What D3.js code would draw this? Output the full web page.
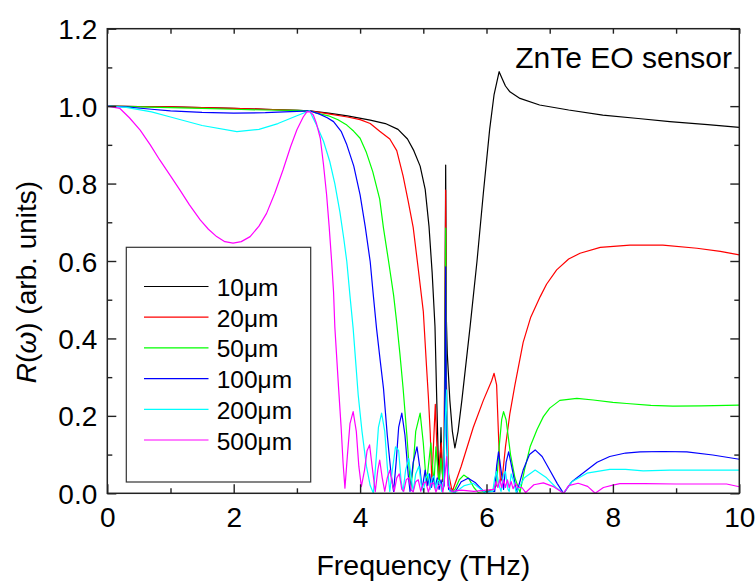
<!DOCTYPE html>
<html>
<head>
<meta charset="utf-8">
<script src="https://cdn.jsdelivr.net/npm/d3@7"></script>
<style>
  body { margin: 0; background: #fff; }
  svg { display: block; }
  text { font-family: "Liberation Sans", Arial, Helvetica, sans-serif; fill: #000; }
</style>
</head>
<body>
<div id="chart"></div>
<script>
// thickness labels, in legend order
var seriesNames = ["10\u03bcm", "20\u03bcm", "50\u03bcm", "100\u03bcm", "200\u03bcm", "500\u03bcm"];
var seriesColors = ["#000000", "#ff0000", "#00ff00", "#0000ff", "#00ffff", "#ff00ff"];

var xTicks = [0, 2, 4, 6, 8, 10];
var xMinorTicks = [1, 3, 5, 7, 9];
var yTicks = [0, 0.2, 0.4, 0.6, 0.8, 1.0, 1.2];
var yMinorTicks = [0.1, 0.3, 0.5, 0.7, 0.9, 1.1];

// [frequency (THz), R(w)]
var r10um = [[0,1.000],[0.5,0.999],[1,0.998],[1.5,0.996],[2,0.994],[2.5,0.992],[3,0.989],[3.2,0.988],[3.5,0.982],[3.8,0.975],[4.16,0.964],[4.4,0.955],[4.6,0.940],[4.75,0.915],[4.85,0.885],[4.95,0.845],[5.03,0.785],[5.09,0.69],[5.14,0.57],[5.185,0.43],[5.21,0.26],[5.235,0.10],[5.255,0.03],[5.27,0.10],[5.28,0.17],[5.29,0.10],[5.31,0.03],[5.33,0.05],[5.345,0.5],[5.354,0.848],[5.365,0.45],[5.38,0.36],[5.42,0.24],[5.46,0.16],[5.50,0.117],[5.55,0.16],[5.61,0.24],[5.74,0.43],[5.85,0.60],[5.95,0.775],[6.05,0.94],[6.12,1.03],[6.20,1.089],[6.25,1.07],[6.30,1.052],[6.37,1.037],[6.53,1.020],[6.84,1.003],[7.3,0.990],[7.84,0.977],[8.4,0.968],[8.9,0.960],[9.5,0.952],[10,0.945]];

var r20um = [[0,1.0],[0.5,0.999],[1,0.998],[1.5,0.996],[2,0.994],[2.5,0.992],[3,0.989],[3.2,0.988],[3.5,0.980],[3.8,0.972],[4.0,0.965],[4.16,0.955],[4.31,0.935],[4.47,0.915],[4.58,0.885],[4.68,0.82],[4.76,0.755],[4.84,0.687],[4.92,0.58],[5.0,0.47],[5.05,0.33],[5.08,0.25],[5.11,0.155],[5.135,0.03],[5.16,0.12],[5.19,0.23],[5.215,0.12],[5.24,0.03],[5.265,0.10],[5.285,0.13],[5.305,0.04],[5.325,0.03],[5.345,0.5],[5.354,0.783],[5.365,0.3],[5.40,0.05],[5.45,0.01],[5.47,0.01],[5.6,0.07],[5.79,0.17],[5.95,0.24],[6.08,0.29],[6.12,0.31],[6.16,0.28],[6.19,0.15],[6.22,0.03],[6.25,0.04],[6.30,0.12],[6.37,0.206],[6.45,0.28],[6.58,0.39],[6.7,0.455],[6.85,0.508],[6.95,0.54],[7.11,0.577],[7.3,0.605],[7.48,0.62],[7.8,0.635],[8.27,0.641],[8.79,0.641],[9.33,0.633],[9.7,0.625],[10,0.616]];

var r50um = [[0,1.0],[0.5,0.998],[1,0.996],[1.5,0.994],[2,0.992],[2.5,0.990],[3,0.989],[3.2,0.988],[3.31,0.982],[3.5,0.975],[3.65,0.965],[3.79,0.951],[3.9,0.935],[4.0,0.917],[4.1,0.88],[4.2,0.831],[4.31,0.76],[4.37,0.685],[4.45,0.60],[4.53,0.512],[4.58,0.44],[4.63,0.36],[4.68,0.272],[4.74,0.15],[4.80,0.01],[4.84,0.07],[4.88,0.16],[4.95,0.207],[5.0,0.13],[5.05,0.02],[5.08,0.07],[5.12,0.13],[5.15,0.06],[5.17,0.03],[5.20,0.12],[5.23,0.06],[5.25,0.03],[5.28,0.09],[5.31,0.04],[5.33,0.03],[5.345,0.4],[5.354,0.685],[5.365,0.2],[5.40,0.02],[5.45,0.005],[5.50,0.01],[5.57,0.035],[5.64,0.047],[5.72,0.038],[5.80,0.015],[5.87,0.002],[6.0,0.005],[6.1,0.01],[6.16,0.02],[6.2,0.12],[6.24,0.19],[6.27,0.211],[6.31,0.19],[6.38,0.10],[6.45,0.04],[6.53,0.002],[6.6,0.06],[6.69,0.12],[6.8,0.165],[6.9,0.198],[7.0,0.22],[7.16,0.24],[7.43,0.245],[7.69,0.241],[8.0,0.235],[8.22,0.232],[8.6,0.227],[8.95,0.225],[9.4,0.226],[10,0.228]];

var r100um = [[0,1.0],[0.3,0.998],[0.7,0.992],[1.0,0.988],[1.5,0.984],[2.0,0.982],[2.5,0.983],[2.9,0.986],[3.2,0.988],[3.35,0.98],[3.48,0.97],[3.58,0.96],[3.7,0.935],[3.79,0.90],[3.9,0.845],[4.0,0.771],[4.08,0.69],[4.16,0.598],[4.21,0.51],[4.26,0.426],[4.32,0.34],[4.37,0.271],[4.43,0.15],[4.49,0.05],[4.53,0.005],[4.57,0.08],[4.61,0.17],[4.66,0.207],[4.71,0.15],[4.76,0.05],[4.79,0.005],[4.84,0.08],[4.90,0.12],[4.95,0.06],[4.98,0.01],[5.03,0.06],[5.07,0.02],[5.10,0.05],[5.13,0.015],[5.16,0.045],[5.19,0.015],[5.22,0.04],[5.25,0.01],[5.28,0.035],[5.31,0.01],[5.33,0.02],[5.345,0.35],[5.354,0.585],[5.365,0.15],[5.40,0.01],[5.50,0.002],[5.6,0.03],[5.71,0.039],[5.82,0.028],[5.97,0.002],[6.05,0.005],[6.13,0.005],[6.16,0.07],[6.19,0.107],[6.23,0.06],[6.27,0.01],[6.31,0.08],[6.35,0.107],[6.41,0.06],[6.48,0.002],[6.58,0.06],[6.68,0.10],[6.77,0.112],[6.88,0.095],[7.0,0.06],[7.12,0.025],[7.22,0.0],[7.35,0.03],[7.59,0.06],[7.75,0.08],[7.95,0.095],[8.2,0.104],[8.43,0.107],[8.8,0.108],[9.17,0.107],[9.58,0.099],[10,0.088]];

var r200um = [[0,1.0],[0.3,0.997],[0.7,0.985],[1.0,0.972],[1.5,0.950],[2.05,0.934],[2.4,0.940],[2.7,0.955],[3.0,0.975],[3.2,0.988],[3.31,0.951],[3.42,0.91],[3.52,0.857],[3.60,0.80],[3.68,0.727],[3.74,0.66],[3.79,0.598],[3.84,0.51],[3.89,0.426],[3.93,0.34],[3.97,0.254],[4.03,0.16],[4.10,0.07],[4.16,0.02],[4.21,0.0],[4.25,0.08],[4.29,0.17],[4.34,0.207],[4.39,0.16],[4.43,0.07],[4.47,0.005],[4.51,0.06],[4.56,0.12],[4.61,0.11],[4.65,0.03],[4.68,0.005],[4.72,0.06],[4.77,0.09],[4.81,0.04],[4.84,0.005],[4.88,0.05],[4.93,0.07],[4.97,0.02],[5.0,0.005],[5.04,0.04],[5.08,0.05],[5.11,0.01],[5.14,0.04],[5.17,0.045],[5.20,0.01],[5.23,0.035],[5.26,0.03],[5.29,0.005],[5.32,0.03],[5.345,0.18],[5.37,0.267],[5.385,0.08],[5.42,0.005],[5.5,0.002],[5.65,0.02],[5.79,0.026],[5.9,0.012],[5.98,0.002],[6.1,0.005],[6.13,0.04],[6.16,0.056],[6.2,0.02],[6.23,0.005],[6.27,0.05],[6.30,0.056],[6.34,0.01],[6.36,0.005],[6.39,0.05],[6.43,0.03],[6.47,0.002],[6.6,0.04],[6.77,0.06],[6.95,0.04],[7.1,0.015],[7.22,0.0],[7.35,0.03],[7.59,0.052],[7.95,0.062],[8.2,0.062],[8.48,0.058],[8.9,0.06],[9.27,0.06],[10,0.06]];

var r500um = [[0,1.0],[0.2,0.994],[0.35,0.97],[0.52,0.938],[0.68,0.90],[0.83,0.861],[1.0,0.82],[1.15,0.783],[1.3,0.745],[1.47,0.706],[1.6,0.682],[1.73,0.663],[1.86,0.650],[1.99,0.646],[2.12,0.650],[2.26,0.663],[2.4,0.69],[2.52,0.723],[2.65,0.775],[2.78,0.835],[2.9,0.895],[3.0,0.939],[3.1,0.972],[3.16,0.986],[3.21,0.985],[3.26,0.977],[3.31,0.955],[3.37,0.917],[3.42,0.85],[3.47,0.771],[3.51,0.69],[3.55,0.598],[3.58,0.52],[3.60,0.43],[3.66,0.271],[3.70,0.17],[3.73,0.08],[3.76,0.013],[3.80,0.10],[3.84,0.18],[3.89,0.211],[3.94,0.16],[3.98,0.07],[4.02,0.017],[4.07,0.06],[4.11,0.11],[4.15,0.125],[4.19,0.07],[4.24,0.004],[4.28,0.06],[4.31,0.086],[4.35,0.04],[4.39,0.005],[4.43,0.04],[4.47,0.06],[4.51,0.025],[4.54,0.005],[4.58,0.04],[4.62,0.05],[4.66,0.01],[4.69,0.005],[4.73,0.035],[4.77,0.04],[4.81,0.008],[4.84,0.004],[4.88,0.03],[4.92,0.035],[4.96,0.005],[5.0,0.025],[5.04,0.03],[5.08,0.003],[5.12,0.025],[5.16,0.027],[5.2,0.003],[5.24,0.02],[5.28,0.022],[5.31,0.003],[5.345,0.05],[5.37,0.095],[5.39,0.02],[5.45,0.005],[5.6,0.008],[5.8,0.005],[6.0,0.008],[6.12,0.01],[6.15,0.03],[6.18,0.015],[6.21,0.035],[6.24,0.015],[6.27,0.035],[6.30,0.015],[6.33,0.035],[6.36,0.015],[6.39,0.03],[6.42,0.012],[6.46,0.025],[6.5,0.015],[6.56,0.015],[6.62,0.002],[6.75,0.022],[6.9,0.027],[7.05,0.018],[7.22,0.0],[7.3,0.02],[7.45,0.026],[7.6,0.018],[7.72,0.0],[7.85,0.015],[8.0,0.021],[8.11,0.025],[8.5,0.025],[9.0,0.024],[9.5,0.024],[9.8,0.024],[10,0.017]];

var allSeries = [r10um, r20um, r50um, r100um, r200um, r500um];

var w = 756, h = 581;
var plotLeft = 107.3, plotRight = 739.3, plotTop = 28.7, plotBottom = 493.3;

var svg = d3.select("#chart").append("svg")
  .attr("width", w)
  .attr("height", h);

svg.append("rect")
  .attr("width", w).attr("height", h)
  .attr("fill", "#fff");

var xScale = d3.scaleLinear().domain([0, 10]).range([plotLeft, plotRight]);
var yScale = d3.scaleLinear().domain([0, 1.2]).range([plotBottom, plotTop]);

//曲线
var line = d3.line()
  .x(function(d) { return xScale(d[0]); })
  .y(function(d) { return yScale(d[1]); });

var plot = svg.append("g");
allSeries.forEach(function(s, i) {
  plot.append("path")
    .attr("d", line(s))
    .attr("fill", "none")
    .attr("stroke", seriesColors[i])
    .attr("stroke-width", 1.2)
    .attr("stroke-linejoin", "round");
});

//坐标轴
function styleAxis(g) {
  g.select(".domain").remove();
  g.selectAll(".tick line").attr("stroke", "#222").attr("stroke-width", 1.4);
  g.selectAll("text").style("font-size", "28px").attr("fill", "#000");
}

svg.append("g")
  .attr("transform", "translate(0," + plotBottom + ")")
  .call(d3.axisBottom(xScale).tickValues(xTicks).tickSize(-9).tickPadding(14).tickFormat(d3.format("d")))
  .call(styleAxis);
svg.append("g")
  .attr("transform", "translate(0," + plotBottom + ")")
  .call(d3.axisBottom(xScale).tickValues(xMinorTicks).tickSize(-5).tickFormat(""))
  .call(styleAxis);
svg.append("g")
  .attr("transform", "translate(0," + plotTop + ")")
  .call(d3.axisTop(xScale).tickValues(xTicks.concat(xMinorTicks)).tickSize(-5).tickFormat(""))
  .call(styleAxis);

svg.append("g")
  .attr("transform", "translate(" + plotLeft + ",0)")
  .call(d3.axisLeft(yScale).tickValues(yTicks).tickSize(-9).tickPadding(10).tickFormat(d3.format(".1f")))
  .call(styleAxis)
  .selectAll("text").attr("dy", "0.36em");
svg.append("g")
  .attr("transform", "translate(" + plotLeft + ",0)")
  .call(d3.axisLeft(yScale).tickValues(yMinorTicks).tickSize(-5).tickFormat(""))
  .call(styleAxis);
svg.append("g")
  .attr("transform", "translate(" + plotRight + ",0)")
  .call(d3.axisRight(yScale).tickValues(yTicks).tickSize(-9).tickFormat(""))
  .call(styleAxis);
svg.append("g")
  .attr("transform", "translate(" + plotRight + ",0)")
  .call(d3.axisRight(yScale).tickValues(yMinorTicks).tickSize(-5).tickFormat(""))
  .call(styleAxis);

//边框
svg.append("rect")
  .attr("x", plotLeft).attr("y", plotTop)
  .attr("width", plotRight - plotLeft).attr("height", plotBottom - plotTop)
  .attr("fill", "none")
  .attr("stroke", "#222")
  .attr("stroke-width", 1.5);

//坐标轴标题
svg.append("text")
  .attr("x", (plotLeft + plotRight) / 2)
  .attr("y", 575)
  .attr("text-anchor", "middle")
  .style("font-size", "28.5px")
  .text("Frequency (THz)");

var yl = svg.append("text")
  .attr("transform", "translate(36,282) rotate(-90)")
  .attr("text-anchor", "middle")
  .style("font-size", "28px");
yl.append("tspan").style("font-style", "italic").text("R");
yl.append("tspan").text("(");
yl.append("tspan").style("font-style", "italic").text("\u03c9");
yl.append("tspan").text(") (arb. units)");

svg.append("text")
  .attr("x", 732)
  .attr("y", 68)
  .attr("text-anchor", "end")
  .style("font-size", "30px")
  .text("ZnTe EO sensor");

//图例
var legend = svg.append("g");
legend.append("rect")
  .attr("x", 126.3).attr("y", 247.3)
  .attr("width", 184.4).attr("height", 234.7)
  .attr("fill", "#fff")
  .attr("stroke", "#333")
  .attr("stroke-width", 1.2);

seriesNames.forEach(function(name, i) {
  var by = 296 + i * 30.7;
  legend.append("line")
    .attr("x1", 144).attr("x2", 208.5)
    .attr("y1", by - 9.5).attr("y2", by - 9.5)
    .attr("stroke", seriesColors[i])
    .attr("stroke-width", 1.2);
  legend.append("text")
    .attr("x", 216.7)
    .attr("y", by)
    .style("font-size", "24.5px")
    .text(name);
});
</script>
</body>
</html>
